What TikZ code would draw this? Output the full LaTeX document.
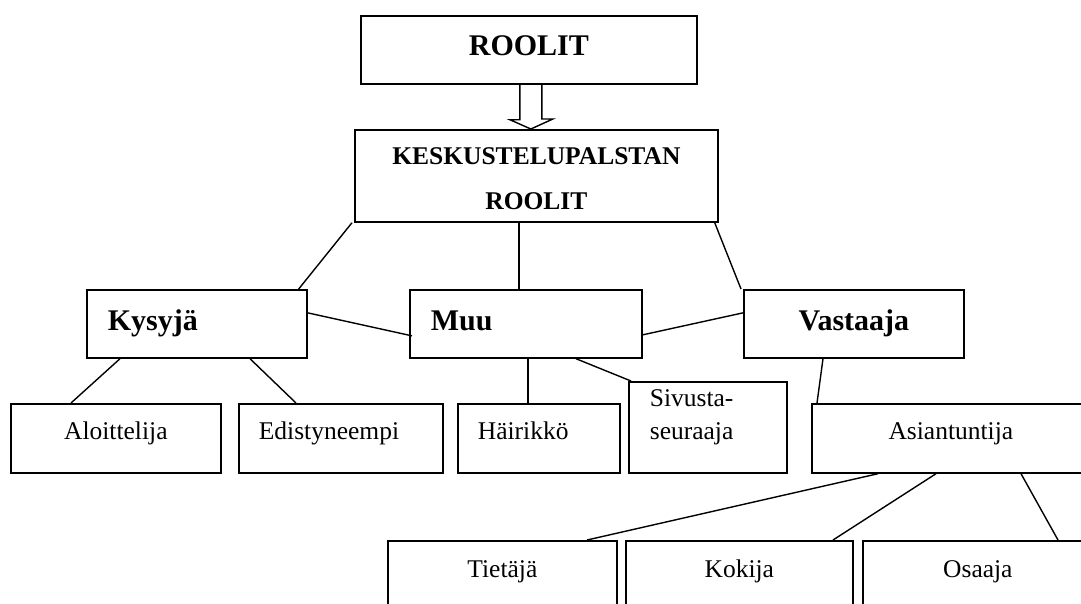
\documentclass[tikz,border=0pt]{standalone}
\usepackage{fontspec}
\setmainfont{Liberation Serif}
\usepackage{tikz}

\tikzset{
  box/.style={draw, line width=1.7pt, anchor=north west, inner ysep=0pt, inner xsep=0pt},
  rolebox/.style={box, font=\bfseries\fontsize{30}{36}\selectfont, text height=41pt, text depth=27pt},
  subbox/.style={box, font=\fontsize{25.5}{33}\selectfont, text height=36pt, text depth=33pt},
  lowbox/.style={box, font=\fontsize{25.5}{33}\selectfont, text height=37pt, text depth=32pt},
  link/.style={line width=1.4pt},
}

\begin{document}
\begin{tikzpicture}[x=1pt, y=-1pt]

\useasboundingbox (0,0) rectangle (1081,603);

% top boxes
\node[box, font=\bfseries\fontsize{30}{36}\selectfont, text height=40pt, text depth=28pt,
      minimum width=336pt] (roolit) at (360,15) {ROOLIT};
\node[box, font=\bfseries\fontsize{25.5}{45}\selectfont, text width=363pt, align=center,
      text height=35pt, text depth=57pt] (palsta) at (354,129) {KESKUSTELUPALSTAN\\ROOLIT};

% hollow arrow
\draw[link] ([xshift=-9pt]roolit.south) -- ++(0,35) -- ++(-10,0)
	-- ([xshift=-5.5pt]palsta.north) -- ++(22,-10) -- ++(-11,0) -- ([xshift=13pt]roolit.south);

% roles
\node[rolebox, text width=178pt, align=left, inner xsep=21pt] (kysyja) at (86,289) {Kysyjä};
\node[rolebox, text width=190pt, align=left, inner xsep=21pt] (muu) at (409,289) {Muu};
\node[rolebox, minimum width=220pt] (vastaaja) at (743,289) {Vastaaja};

% sub roles
\node[subbox, minimum width=210pt] (aloittelija) at (10,403) {Aloittelija};
\node[subbox, text width=164pt, align=left, inner xsep=20pt] (edistyneempi) at (238,403) {Edistyneempi};
\node[subbox, text width=122pt, align=left, inner xsep=20pt] (hairikko) at (457,403) {Häirikkö};
\node[box, font=\fontsize{25.5}{33}\selectfont, text width=116pt, align=left, inner xsep=21pt,
      text height=25pt, text depth=66pt] (sivusta) at (628,381) {Sivusta-\\seuraaja};
\node[subbox, minimum width=278pt] (asiantuntija) at (811,403) {Asiantuntija};

% experts
\node[lowbox, minimum width=229pt] (tietaja) at (387,540) {Tietäjä};
\node[lowbox, minimum width=227pt] (kokija) at (625,540) {Kokija};
\node[lowbox, minimum width=230pt] (osaaja) at (862,540) {Osaaja};

% links
\draw[link] ([xshift=-2pt]palsta.south west) -- ([xshift=-9pt]kysyja.north east);
\draw[link] ([xshift=-17.5pt]palsta.south) -- ([xshift=-17.5pt]palsta.south |- muu.north);
\draw[link] ([xshift=-4pt]palsta.south east) -- ([xshift=-2pt]vastaaja.north west);
\draw[link] ([yshift=11pt]kysyja.east) -- ([xshift=3pt, yshift=-12pt]muu.west);
\draw[link] ([yshift=-11pt]muu.east) -- ([yshift=11pt]vastaaja.west);
\draw[link] ([xshift=34pt]kysyja.south west) -- ([xshift=61pt]aloittelija.north west);
\draw[link] ([xshift=164pt]kysyja.south west) -- ([xshift=58pt]edistyneempi.north west);
\draw[link] ([xshift=119pt]muu.south west) -- ([xshift=71pt]hairikko.north west);
\draw[link] ([xshift=167pt]muu.south west) -- ([xshift=3pt]sivusta.north west);
\draw[link] ([xshift=80pt]vastaaja.south west) -- ([xshift=6pt]asiantuntija.north west);
\draw[link] ([xshift=67pt]asiantuntija.south west) -- ([xshift=200pt]tietaja.north west);
\draw[link] ([xshift=125pt]asiantuntija.south west) -- ([xshift=208pt]kokija.north west);
\draw[link] ([xshift=210pt]asiantuntija.south west) -- ([xshift=196pt]osaaja.north west);

\end{tikzpicture}
\end{document}
